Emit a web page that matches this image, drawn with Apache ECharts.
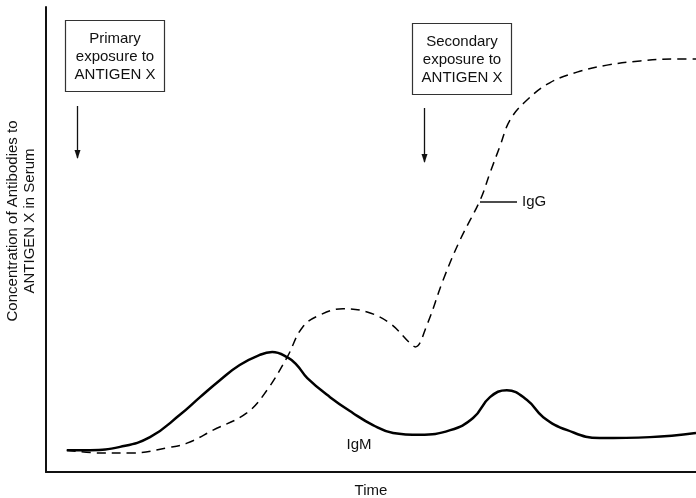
<!DOCTYPE html>
<html>
<head>
<meta charset="utf-8">
<script src="https://cdn.jsdelivr.net/npm/echarts@6/dist/echarts.min.js"></script>
<style>
html,body{margin:0;padding:0;background:#fff;}
#chart{width:696px;height:498px;}
</style>
</head>
<body>
<div id="chart"></div>
<script>
// Time (arbitrary units, 0-100) and concentration (arbitrary units, 0-100)
var igmTime = [3.2, 6.8, 11.4, 16.0, 20.6, 23.7, 26.8, 29.8, 32.9, 34.8, 37.1, 38.6, 40.2, 43.7, 47.2, 50.3, 53.4, 57.5, 62.2, 65.7, 68.3, 70.9, 74.0, 76.5, 80.2, 85.2, 92.9, 100];
var igmConc = [4.7, 4.7, 5.4, 7.5, 12.3, 16.1, 19.8, 23.0, 25.2, 25.8, 24.7, 23.0, 20.2, 16.1, 12.7, 10.1, 8.4, 8.0, 9.0, 11.6, 16.1, 17.6, 15.5, 11.8, 9.0, 7.3, 7.5, 8.4];
var iggTime = [3.2, 8.3, 13.4, 18.6, 21.7, 25.7, 30.9, 34.0, 37.1, 39.5, 42.2, 45.7, 49.4, 52.9, 56.0, 56.8, 58.6, 61.1, 63.7, 66.8, 68.3, 69.8, 71.4, 74.0, 77.5, 81.7, 86.3, 91.4, 96.5, 100];
var iggConc = [4.7, 4.1, 4.1, 5.2, 6.2, 9.0, 12.7, 17.6, 24.7, 31.2, 33.8, 35.1, 34.4, 32.0, 27.7, 26.9, 31.6, 41.3, 49.9, 58.5, 64.3, 69.9, 75.7, 80.0, 83.7, 86.0, 87.5, 88.4, 88.8, 88.8];
var primaryLabel = "Primary\nexposure to\nANTIGEN X";
var secondaryLabel = "Secondary\nexposure to\nANTIGEN X";
var xName = "Time";
var yName = "Concentration of Antibodies to\nANTIGEN X in Serum";

function pairs(xs, ys){ return xs.map(function(x,i){ return [x, ys[i]]; }); }

var font = "'Liberation Sans', Arial, sans-serif";
var chart = echarts.init(document.getElementById('chart'), null, {renderer:'canvas'});

chart.setOption({
  animation: false,
  backgroundColor: '#fff',
  grid: {left: 46, right: 0, top: 7, bottom: 26, containLabel: false, outerBoundsMode: 'none'},
  xAxis: {
    type: 'value', min: 0, max: 100,
    name: xName, nameLocation: 'middle', nameGap: 11,
    nameTextStyle: {color: '#111', fontSize: 15, fontFamily: font},
    axisLine: {show: true, onZero: false, lineStyle: {color: '#111', width: 2}},
    axisTick: {show: false}, axisLabel: {show: false}, splitLine: {show: false}
  },
  yAxis: {
    type: 'value', min: 0, max: 100,
    axisLine: {show: true, onZero: false, lineStyle: {color: '#111', width: 2}},
    axisTick: {show: false}, axisLabel: {show: false}, splitLine: {show: false}
  },
  series: [
    {
      name: 'IgM', type: 'line', data: pairs(igmTime, igmConc),
      smooth: 0.45, showSymbol: false, symbol: 'none',
      lineStyle: {color: '#000', width: 2.5, type: 'solid'}
    },
    {
      name: 'IgG', type: 'line', data: pairs(iggTime, iggConc),
      smooth: 0.4, showSymbol: false, symbol: 'none',
      lineStyle: {color: '#000', width: 1.5, type: [9, 6]}
    }
  ],
  graphic: [
    {type: 'text', x: 21.5, y: 221, rotation: Math.PI / 2,
     style: {text: yName, font: '15px ' + font, fill: '#111', align: 'center', verticalAlign: 'middle', lineHeight: 17}},
    {type: 'rect', shape: {x: 65.5, y: 20.5, width: 99, height: 71}, style: {fill: '#fff', stroke: '#333', lineWidth: 1.2}},
    {type: 'text', x: 115, y: 57, style: {text: primaryLabel, font: '15px ' + font, fill: '#111', align: 'center', verticalAlign: 'middle', lineHeight: 18}},
    {type: 'line', shape: {x1: 77.5, y1: 106, x2: 77.5, y2: 158}, style: {stroke: '#111', lineWidth: 1.3}},
    {type: 'polygon', shape: {points: [[74.5, 150], [80.5, 150], [77.5, 159]]}, style: {fill: '#111'}},
    {type: 'rect', shape: {x: 412.5, y: 23.5, width: 99, height: 71}, style: {fill: '#fff', stroke: '#333', lineWidth: 1.2}},
    {type: 'text', x: 462, y: 60, style: {text: secondaryLabel, font: '15px ' + font, fill: '#111', align: 'center', verticalAlign: 'middle', lineHeight: 18}},
    {type: 'line', shape: {x1: 424.5, y1: 108, x2: 424.5, y2: 162}, style: {stroke: '#111', lineWidth: 1.3}},
    {type: 'polygon', shape: {points: [[421.5, 154], [427.5, 154], [424.5, 163]]}, style: {fill: '#111'}},
    {type: 'line', shape: {x1: 480, y1: 202, x2: 517, y2: 202}, style: {stroke: '#111', lineWidth: 1.5}},
    {type: 'text', x: 522, y: 202, style: {text: 'IgG', font: '15px ' + font, fill: '#111', align: 'left', verticalAlign: 'middle'}},
    {type: 'text', x: 359, y: 445, style: {text: 'IgM', font: '15px ' + font, fill: '#111', align: 'center', verticalAlign: 'middle'}}
  ]
});
</script>
</body>
</html>
